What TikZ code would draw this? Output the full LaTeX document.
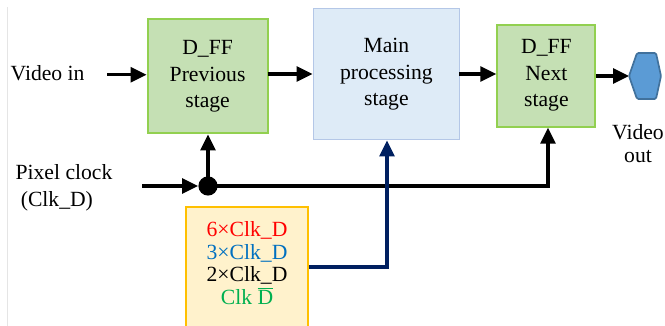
\documentclass[tikz,border=0pt]{standalone}
\usepackage{fontspec}
\setmainfont{Liberation Serif}
\usetikzlibrary{arrows.meta}
\definecolor{ffgreen}{HTML}{C5E0B4}
\definecolor{ffline}{HTML}{92D050}
\definecolor{mainblue}{HTML}{DEEBF7}
\definecolor{mainline}{HTML}{B4C7E7}
\definecolor{clkyellow}{HTML}{FFF2CC}
\definecolor{clkline}{HTML}{FFC000}
\definecolor{outblue}{HTML}{5B9BD5}
\definecolor{outline}{HTML}{41719C}
\definecolor{navy}{HTML}{002060}
\definecolor{clkblue}{HTML}{0070C0}
\definecolor{clkgreen}{HTML}{00B050}
\tikzset{
  txt/.style={font=\fontsize{15.4}{18.8}\selectfont, align=center, inner sep=0pt},
  ffbox/.style={txt, draw=ffline, fill=ffgreen, line width=1.4pt},
  conn/.style={line width=2.3pt, -{Triangle[length=0.4cm,width=0.37cm]}},
}
\begin{document}
\begin{tikzpicture}
    \useasboundingbox (0,0) rectangle (16.625,8.15);
    \clip (0,0) rectangle (16.625,8.15);
    \draw[black!10, line width=0.4pt] (0.175,7.98) -- (0.175,0);

    % blocks
    \node (prev) at (5.19,6.24) [ffbox, minimum width=3.0cm, minimum height=2.85cm] {D\_FF\\Previous\\stage};
    \node (main) at (9.66,6.29) [txt, draw=mainline, fill=mainblue, line width=0.7pt,
      minimum width=3.67cm, minimum height=3.27cm] {Main\\processing\\stage};
    \node (next) at (13.66,6.26) [ffbox, minimum width=2.45cm, minimum height=2.55cm] {D\_FF\\Next\\stage};
    \node (clk) at (6.175,1.46) [txt, draw=clkline, fill=clkyellow, line width=1.2pt,
      minimum width=3.05cm, minimum height=3.03cm] {};
    \node (clktxt) at (6.175,1.57) [txt, font=\fontsize{15.4}{16.1}\selectfont]
      {\color{red}6×Clk\_D\\\color{clkblue}3×Clk\_D\\2×Clk\_D\\\color{clkgreen}Clk~$\overline{\mbox{D}}$};

    % video out
    \draw[draw=outline, fill=outblue, line width=1.2pt, rounded corners=1pt]
      (15.725,6.25) -- (15.925,6.825) -- (16.4,6.825) -- (16.525,6.25)
      -- (16.4,5.675) -- (15.925,5.675) -- cycle;
    \coordinate (vout) at (15.725,6.25);

    % labels
    \node (vin) at (1.19,6.33) [txt] {Video in};
    \node (pix) at (1.6,3.46) [txt, align=left] {Pixel clock\\\hspace*{0.13cm}(Clk\_D)};
    \node (vo) at (15.95,4.56) [txt, font=\fontsize{15.4}{16}\selectfont] {Video\\out};

    % data path
    \coordinate (vinend) at (2.675,6.28);
    \draw[conn] (vinend) -- (vinend -| prev.west);
    \draw[conn] (main.west |- 0,6.3) ++(-1.125,0) coordinate (pm) -- (main.west |- pm);
    \draw[conn] (next.west |- 0,6.3) ++(-0.925,0) coordinate (mn) -- (next.west |- mn);
    \draw[conn] (next.east |- vout) -- (vout);

    % clock
    \coordinate (clkin) at (3.55,3.5);
    \node (dot) at (5.2,3.5) [circle, fill=black, minimum size=0.48cm, inner sep=0pt] {};
    \draw[conn] (clkin) -- (dot.west);
    \draw[conn] (dot.center) -- (dot |- prev.south);
    \draw[conn] (dot.center) -| (13.7,0 |- next.south);
    \draw[conn, navy] (clk.east |- 0,1.475) -- (9.675,1.475) -- (9.675,0 |- main.south);
\end{tikzpicture}
\end{document}
